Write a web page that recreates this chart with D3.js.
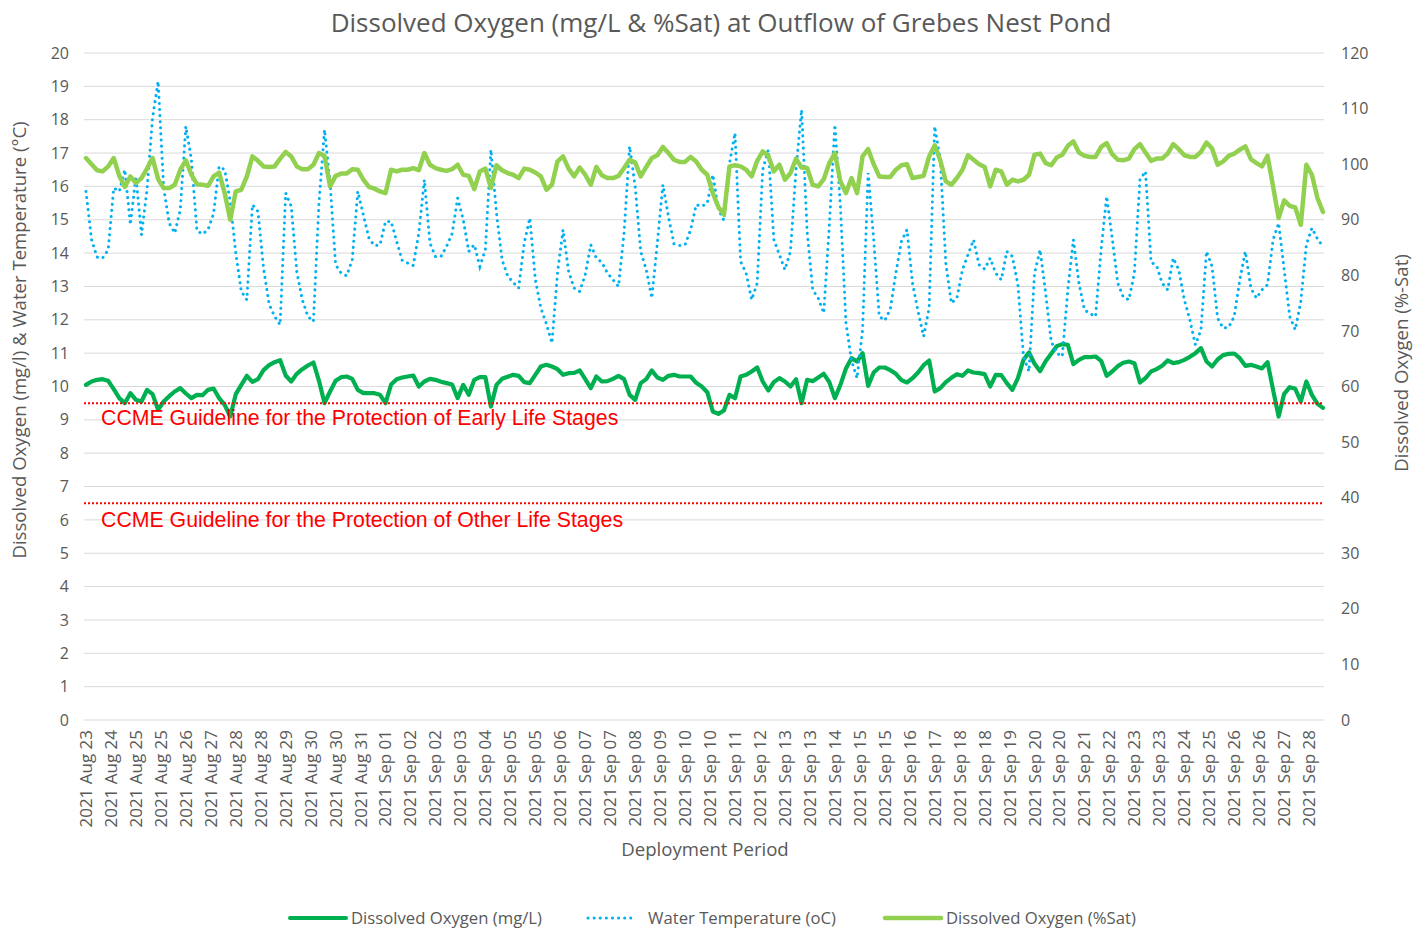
<!DOCTYPE html>
<html lang="en">
<head>
<meta charset="UTF-8">
<title>Dissolved Oxygen - Grebes Nest Pond</title>
<script src="https://d3js.org/d3.v7.min.js"></script>
<style>
    body { margin: 0; background: #fff; }
    svg { display: block; font-family: "Open Sans", sans-serif; }
    .tick-label { fill: #595959; font-size: 16px; }
    .x-label { fill: #595959; font-size: 17px; }
    .legend-label { fill: #595959; font-size: 16.7px; }
    .axis-title { fill: #595959; font-size: 18.6px; }
    .guide-text { fill: #ff0000; font-family: "Liberation Sans", Arial, sans-serif; font-size: 21.3px; }
</style>
</head>
<body>
<svg id="chart" width="1425" height="930"></svg>
<script>
// category labels shown every 18th reading
const xLabels = [
    "2021 Aug 23", "2021 Aug 24", "2021 Aug 25", "2021 Aug 25", "2021 Aug 26",
    "2021 Aug 27", "2021 Aug 28", "2021 Aug 28", "2021 Aug 29", "2021 Aug 30",
    "2021 Aug 30", "2021 Aug 31", "2021 Sep 01", "2021 Sep 02", "2021 Sep 02",
    "2021 Sep 03", "2021 Sep 04", "2021 Sep 05", "2021 Sep 05", "2021 Sep 06",
    "2021 Sep 07", "2021 Sep 07", "2021 Sep 08", "2021 Sep 09", "2021 Sep 10",
    "2021 Sep 10", "2021 Sep 11", "2021 Sep 12", "2021 Sep 13", "2021 Sep 13",
    "2021 Sep 14", "2021 Sep 15", "2021 Sep 15", "2021 Sep 16", "2021 Sep 17",
    "2021 Sep 18", "2021 Sep 18", "2021 Sep 19", "2021 Sep 20", "2021 Sep 20",
    "2021 Sep 21", "2021 Sep 22", "2021 Sep 23", "2021 Sep 23", "2021 Sep 24",
    "2021 Sep 25", "2021 Sep 26", "2021 Sep 26", "2021 Sep 27", "2021 Sep 28"
];
const labelEvery = 18;   // readings per shown label
const sampleStep = 4;    // readings between the values kept below
const lastReading = 892;

const leftTicks = d3.range(0, 21);
const rightTicks = d3.range(0, 121, 10);

// Dissolved Oxygen (mg/L), every 4th reading
const doMgL = [
    10.05, 10.15, 10.2, 10.22, 10.17, 9.92, 9.65, 9.5, 9.8, 9.6, 9.55, 9.9, 9.77, 9.3, 9.55, 9.71,
    9.85, 9.95, 9.79, 9.65, 9.75, 9.74, 9.9, 9.94, 9.65, 9.45, 9.1, 9.77, 10.05, 10.32, 10.14, 10.22,
    10.49, 10.64, 10.73, 10.79, 10.33, 10.15, 10.38, 10.52, 10.63, 10.72, 10.17, 9.5, 9.85, 10.17, 10.28, 10.3,
    10.23, 9.9, 9.8, 9.8, 9.8, 9.75, 9.5, 10.06, 10.22, 10.27, 10.3, 10.33, 10.0, 10.15, 10.23, 10.2,
    10.14, 10.1, 10.06, 9.65, 10.05, 9.75, 10.2, 10.28, 10.28, 9.4, 10.05, 10.23, 10.29, 10.35, 10.32, 10.13,
    10.1, 10.35, 10.6, 10.65, 10.6, 10.52, 10.35, 10.4, 10.41, 10.48, 10.22, 9.95, 10.3, 10.15, 10.16, 10.23,
    10.32, 10.22, 9.75, 9.6, 10.1, 10.22, 10.48, 10.27, 10.2, 10.32, 10.35, 10.3, 10.3, 10.3, 10.11, 10.0,
    9.83, 9.25, 9.18, 9.28, 9.75, 9.65, 10.3, 10.35, 10.45, 10.57, 10.15, 9.88, 10.13, 10.25, 10.15, 10.0,
    10.22, 9.5, 10.2, 10.16, 10.27, 10.38, 10.13, 9.65, 10.05, 10.54, 10.85, 10.75, 11.0, 10.02, 10.42, 10.57,
    10.57, 10.49, 10.38, 10.19, 10.12, 10.25, 10.42, 10.64, 10.78, 9.85, 9.95, 10.13, 10.26, 10.37, 10.32, 10.48,
    10.42, 10.4, 10.37, 10.0, 10.35, 10.34, 10.1, 9.9, 10.25, 10.8, 11.02, 10.68, 10.46, 10.76, 10.98, 11.21,
    11.27, 11.25, 10.67, 10.8, 10.88, 10.88, 10.9, 10.77, 10.32, 10.45, 10.61, 10.71, 10.75, 10.7, 10.12, 10.25,
    10.45, 10.52, 10.62, 10.78, 10.7, 10.73, 10.8, 10.89, 11.0, 11.15, 10.75, 10.6, 10.81, 10.94, 10.98, 10.99,
    10.85, 10.62, 10.65, 10.6, 10.54, 10.73, 9.9, 9.1, 9.78, 9.98, 9.93, 9.55, 10.15, 9.75, 9.48, 9.36
];

// Water Temperature (oC), every 4th reading
const waterTemp = [
    15.85, 14.4, 13.88, 13.85, 14.1, 15.95, 15.85, 16.5, 14.85, 16.3, 14.55, 15.9, 18.05, 19.15, 15.95, 14.9,
    14.6, 15.3, 17.8, 16.8, 14.67, 14.57, 14.7, 15.18, 16.6, 16.5, 15.55, 14.0, 12.85, 12.6, 15.45, 15.25,
    13.55, 12.48, 12.1, 11.85, 15.8, 15.4, 13.45, 12.6, 12.1, 11.95, 15.5, 17.7, 16.1, 13.65, 13.4, 13.32,
    13.8, 15.85, 15.15, 14.45, 14.22, 14.25, 14.95, 14.95, 14.35, 13.78, 13.7, 13.63, 14.6, 16.2, 14.3, 13.9,
    13.9, 14.2, 14.58, 15.65, 15.0, 14.05, 14.25, 13.6, 14.1, 17.1, 15.2, 13.8, 13.32, 13.12, 12.95, 14.3,
    15.05, 13.22, 12.35, 11.88, 11.3, 13.4, 14.7, 13.45, 12.95, 12.85, 13.35, 14.25, 13.85, 13.72, 13.4, 13.2,
    13.0, 14.6, 17.2, 16.0, 14.05, 13.5, 12.65, 14.3, 16.05, 15.1, 14.28, 14.23, 14.25, 14.7, 15.45, 15.4,
    15.5, 16.35, 15.32, 14.98, 16.68, 17.6, 13.75, 13.4, 12.6, 13.1, 16.5, 17.1, 14.4, 13.95, 13.5, 14.05,
    16.5, 18.3, 14.65, 12.9, 12.65, 12.2, 14.8, 17.85, 15.4, 11.9, 10.78, 10.25, 11.7, 16.4, 14.4, 12.1,
    11.98, 12.32, 13.4, 14.35, 14.7, 13.1, 12.25, 11.5, 12.35, 17.8, 16.8, 13.7, 12.5, 12.65, 13.5, 13.95,
    14.4, 13.65, 13.52, 13.85, 13.4, 13.2, 14.05, 13.9, 13.05, 10.9, 10.45, 13.4, 14.1, 12.8, 11.35, 11.0,
    10.9, 12.9, 14.4, 13.1, 12.3, 12.18, 12.1, 14.1, 15.7, 14.45, 13.1, 12.68, 12.6, 13.4, 16.2, 16.45,
    13.73, 13.62, 13.1, 12.9, 13.85, 13.5, 12.6, 12.0, 11.25, 11.7, 14.05, 13.6, 12.05, 11.75, 11.78, 12.1,
    13.2, 14.05, 12.95, 12.65, 12.9, 13.05, 14.4, 14.9, 13.5, 12.1, 11.7, 12.55, 14.25, 14.75, 14.43, 14.2
];

// Dissolved Oxygen (%Sat), every 4th reading, right axis
const doSat = [
    101.1, 100.0, 98.9, 98.7, 99.6, 101.1, 97.9, 95.9, 97.8, 96.6, 97.5, 99.2, 101.1, 97.3, 95.7, 95.7,
    96.3, 99.0, 100.7, 98.1, 96.4, 96.3, 96.1, 97.8, 98.5, 94.8, 90.0, 95.1, 95.4, 97.8, 101.4, 100.6,
    99.6, 99.5, 99.6, 101.0, 102.2, 101.4, 99.6, 99.1, 99.1, 99.9, 102.0, 101.5, 96.0, 97.9, 98.3, 98.3,
    99.1, 99.0, 97.2, 95.9, 95.6, 95.1, 94.8, 99.0, 98.7, 99.0, 99.0, 99.3, 98.9, 102.0, 99.9, 99.3,
    99.0, 98.8, 99.1, 99.9, 98.1, 97.9, 95.5, 98.7, 99.2, 95.7, 99.8, 98.9, 98.4, 98.1, 97.5, 99.2,
    99.0, 98.5, 97.8, 95.4, 96.3, 100.5, 101.4, 99.2, 97.8, 99.4, 98.1, 96.3, 99.5, 98.0, 97.5, 97.5,
    97.9, 99.3, 100.8, 100.3, 97.8, 99.5, 101.1, 101.6, 103.1, 102.0, 100.8, 100.4, 100.4, 101.3, 100.5, 99.0,
    98.1, 94.8, 92.3, 90.9, 99.6, 99.8, 99.6, 99.0, 97.8, 100.6, 102.3, 101.5, 98.7, 99.9, 97.2, 98.4,
    101.0, 99.4, 99.3, 96.3, 96.0, 97.3, 100.2, 102.0, 96.9, 94.8, 97.5, 94.8, 101.4, 102.7, 100.0, 97.8,
    97.7, 97.7, 99.0, 99.8, 100.0, 97.5, 97.7, 97.9, 101.4, 103.4, 100.7, 96.9, 96.3, 97.5, 99.0, 101.6,
    100.8, 100.0, 99.5, 96.0, 99.0, 98.7, 96.3, 97.2, 96.9, 97.2, 98.1, 101.7, 101.9, 100.2, 99.8, 101.2,
    101.7, 103.3, 104.1, 102.1, 101.5, 101.3, 101.3, 103.1, 103.8, 101.8, 100.8, 100.7, 101.0, 102.7, 103.6, 102.1,
    100.6, 101.0, 101.0, 101.9, 103.6, 102.7, 101.6, 101.3, 101.3, 102.2, 103.9, 102.8, 99.9, 100.5, 101.5, 101.9,
    102.6, 103.2, 100.9, 100.2, 99.6, 101.5, 96.0, 90.3, 93.5, 92.5, 92.2, 89.1, 99.9, 98.1, 93.9, 91.4
];

// CCME guideline levels (mg/L)
const guideEarly = 9.5;
const guideOther = 6.5;

let svg = d3.select('#chart');

let x = d3.scaleLinear().domain([0, lastReading]).range([86, 1323]);
let yLeft = d3.scaleLinear().domain([0, 20]).range([720, 53]);
let yRight = d3.scaleLinear().domain([0, 120]).range([720, 53]);
const plotLeft = 84, plotRight = 1324;

// title
svg.append('text')
    .attr('x', 721).attr('y', 32)
    .attr('text-anchor', 'middle')
    .style('font-size', '26px')
    .style('fill', '#595959')
    .text('Dissolved Oxygen (mg/L & %Sat) at Outflow of Grebes Nest Pond');

// gridlines
svg.append('g')
    .selectAll('line')
    .data(leftTicks)
    .enter()
    .append('line')
    .attr('x1', plotLeft).attr('x2', plotRight)
    .attr('y1', d => yLeft(d)).attr('y2', d => yLeft(d))
    .attr('stroke', '#d9d9d9')
    .attr('stroke-width', 1);

// left tick labels
svg.append('g')
    .selectAll('text')
    .data(leftTicks)
    .enter()
    .append('text')
    .attr('class', 'tick-label')
    .attr('x', 69).attr('y', d => yLeft(d))
    .attr('dy', '0.35em')
    .attr('text-anchor', 'end')
    .text(d => d);

// right tick labels
svg.append('g')
    .selectAll('text')
    .data(rightTicks)
    .enter()
    .append('text')
    .attr('class', 'tick-label')
    .attr('x', 1341).attr('y', d => yRight(d))
    .attr('dy', '0.35em')
    .attr('text-anchor', 'start')
    .text(d => d);

// x tick labels, rotated
svg.append('g')
    .selectAll('text')
    .data(xLabels)
    .enter()
    .append('text')
    .attr('class', 'x-label')
    .attr('transform', (d, j) => 'translate(' + x(j * labelEvery) + ',730) rotate(-90)')
    .attr('dy', '0.35em')
    .attr('text-anchor', 'end')
    .text(d => d);

// axis titles
svg.append('text')
    .attr('class', 'axis-title')
    .attr('transform', 'translate(26,340) rotate(-90)')
    .attr('text-anchor', 'middle')
    .text('Dissolved Oxygen (mg/l) & Water Temperature (°C)');

svg.append('text')
    .attr('class', 'axis-title')
    .attr('transform', 'translate(1408,363) rotate(-90)')
    .attr('text-anchor', 'middle')
    .text('Dissolved Oxygen (%-Sat)');

svg.append('text')
    .attr('class', 'axis-title')
    .attr('x', 705).attr('y', 856)
    .attr('text-anchor', 'middle')
    .text('Deployment Period');

// series
function lineFor(scale) {
    return d3.line()
        .defined(d => d != null)
        .x((d, i) => x(i * sampleStep))
        .y(d => scale(d));
}

let plot = svg.append('g');

plot.append('path')
    .datum(doMgL)
    .attr('d', lineFor(yLeft))
    .attr('fill', 'none')
    .attr('stroke', '#00b050')
    .attr('stroke-width', 4.2)
    .attr('stroke-linejoin', 'round')
    .attr('stroke-linecap', 'round');

// guideline lines
[guideEarly, guideOther].forEach(v => {
    plot.append('line')
        .attr('x1', plotLeft).attr('x2', plotRight)
        .attr('y1', yLeft(v)).attr('y2', yLeft(v))
        .attr('stroke', '#ff0000')
        .attr('stroke-width', 2)
        .attr('stroke-dasharray', '2 2');
});

plot.append('path')
    .datum(waterTemp)
    .attr('d', lineFor(yLeft))
    .attr('fill', 'none')
    .attr('stroke', '#00b0f0')
    .attr('stroke-width', 3)
    .attr('stroke-linecap', 'round')
    .attr('stroke-dasharray', '0.1 6');

plot.append('path')
    .datum(doSat)
    .attr('d', lineFor(yRight))
    .attr('fill', 'none')
    .attr('stroke', '#92d050')
    .attr('stroke-width', 4.5)
    .attr('stroke-linejoin', 'round')
    .attr('stroke-linecap', 'round');

// guideline labels
svg.append('text')
    .attr('class', 'guide-text')
    .attr('x', 101).attr('y', yLeft(guideEarly) + 22)
    .text('CCME Guideline for the Protection of Early Life Stages');

svg.append('text')
    .attr('class', 'guide-text')
    .attr('x', 101).attr('y', yLeft(guideOther) + 24)
    .text('CCME Guideline for the Protection of Other Life Stages');

// legend
let legendItems = [
    {name: 'Dissolved Oxygen (mg/L)', color: '#00b050', x: 290, w: 56, dash: null, width: 4},
    {name: 'Water Temperature (oC)', color: '#00b0f0', x: 588, w: 48, dash: '0.1 6', width: 3},
    {name: 'Dissolved Oxygen (%Sat)', color: '#92d050', x: 885, w: 56, dash: null, width: 4.5}
];
let legend = svg.append('g');
legendItems.forEach(item => {
    let g = legend.append('g');
    g.append('line')
        .attr('x1', item.x).attr('x2', item.x + item.w)
        .attr('y1', 918).attr('y2', 918)
        .attr('stroke', item.color)
        .attr('stroke-width', item.width)
        .attr('stroke-linecap', 'round')
        .attr('stroke-dasharray', item.dash);
    g.append('text')
        .attr('class', 'legend-label')
        .attr('x', item.x + item.w + (item.dash ? 12 : 5)).attr('y', 918)
        .attr('dy', '0.35em')
        .text(item.name);
});
</script>
</body>
</html>
